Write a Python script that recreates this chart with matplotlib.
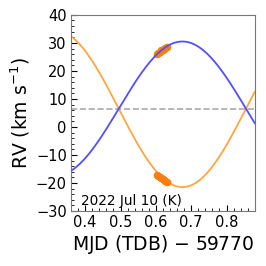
import numpy as np
import matplotlib
matplotlib.use('Agg')
import matplotlib.pyplot as plt
from matplotlib.ticker import MultipleLocator

# Orbit model parameters
gamma = 6.5       # systemic velocity, km/s
k_blue = 24.0     # semi-amplitude of the blue component
k_orange = 28.0   # semi-amplitude of the orange component
period = 0.72     # days
t_peak = 0.675    # time of blue maximum, MJD - 59770

# Measured RVs (orange points)
obs_t = [0.602, 0.607, 0.611, 0.615, 0.619, 0.623, 0.627, 0.631]
obs_rv_a = [26.0, 26.5, 26.9, 27.3, 27.6, 28.0, 28.3, 28.6]
obs_rv_b = [-17.3, -17.7, -18.0, -18.3, -18.6, -18.9, -19.2, -19.5]

x_min, x_max = 0.36, 0.88
t = np.linspace(x_min, x_max, 400)
phase = 2 * np.pi * (t - t_peak) / period
rv_blue = gamma + k_blue * np.cos(phase)
rv_orange = gamma - k_orange * np.cos(phase)

fig = plt.figure(figsize=(2.66, 2.66), dpi=100)
ax = fig.add_axes([0.267, 0.207, 0.691, 0.737])

ax.axhline(gamma, color='#aaaaaa', ls='--', lw=1.2, zorder=1)
ax.plot(t, rv_orange, color='#ffa640', lw=1.3, zorder=2)
ax.plot(obs_t, obs_rv_a, 'o', color='#ff7f0e', ms=4.5, zorder=3)
ax.plot(obs_t, obs_rv_b, 'o', color='#ff7f0e', ms=4.5, zorder=3)
ax.plot(t, rv_blue, color='#5050ff', lw=1.3, zorder=4)

ax.set_xlim(x_min, x_max)
ax.set_ylim(-30, 40)
ax.xaxis.set_major_locator(MultipleLocator(0.1))
ax.xaxis.set_minor_locator(MultipleLocator(0.02))
ax.yaxis.set_major_locator(MultipleLocator(10))
ax.yaxis.set_minor_locator(MultipleLocator(2))
ax.tick_params(which='both', direction='in', labelsize=10.5, pad=3)
ax.tick_params(which='major', length=4)
ax.tick_params(which='minor', length=2)
for s in ax.spines.values():
    s.set_color('#777777')

ax.set_xlabel('MJD (TDB) $-$ 59770', fontsize=13.5, labelpad=2)
ax.set_ylabel('RV (km s$^{-1}$)', fontsize=13.5, labelpad=3)
ax.text(0.054, 0.015, '2022 Jul 10 (K)', transform=ax.transAxes,
        fontsize=9.8, va='bottom', ha='left')

fig.savefig('out.png', dpi=100)
